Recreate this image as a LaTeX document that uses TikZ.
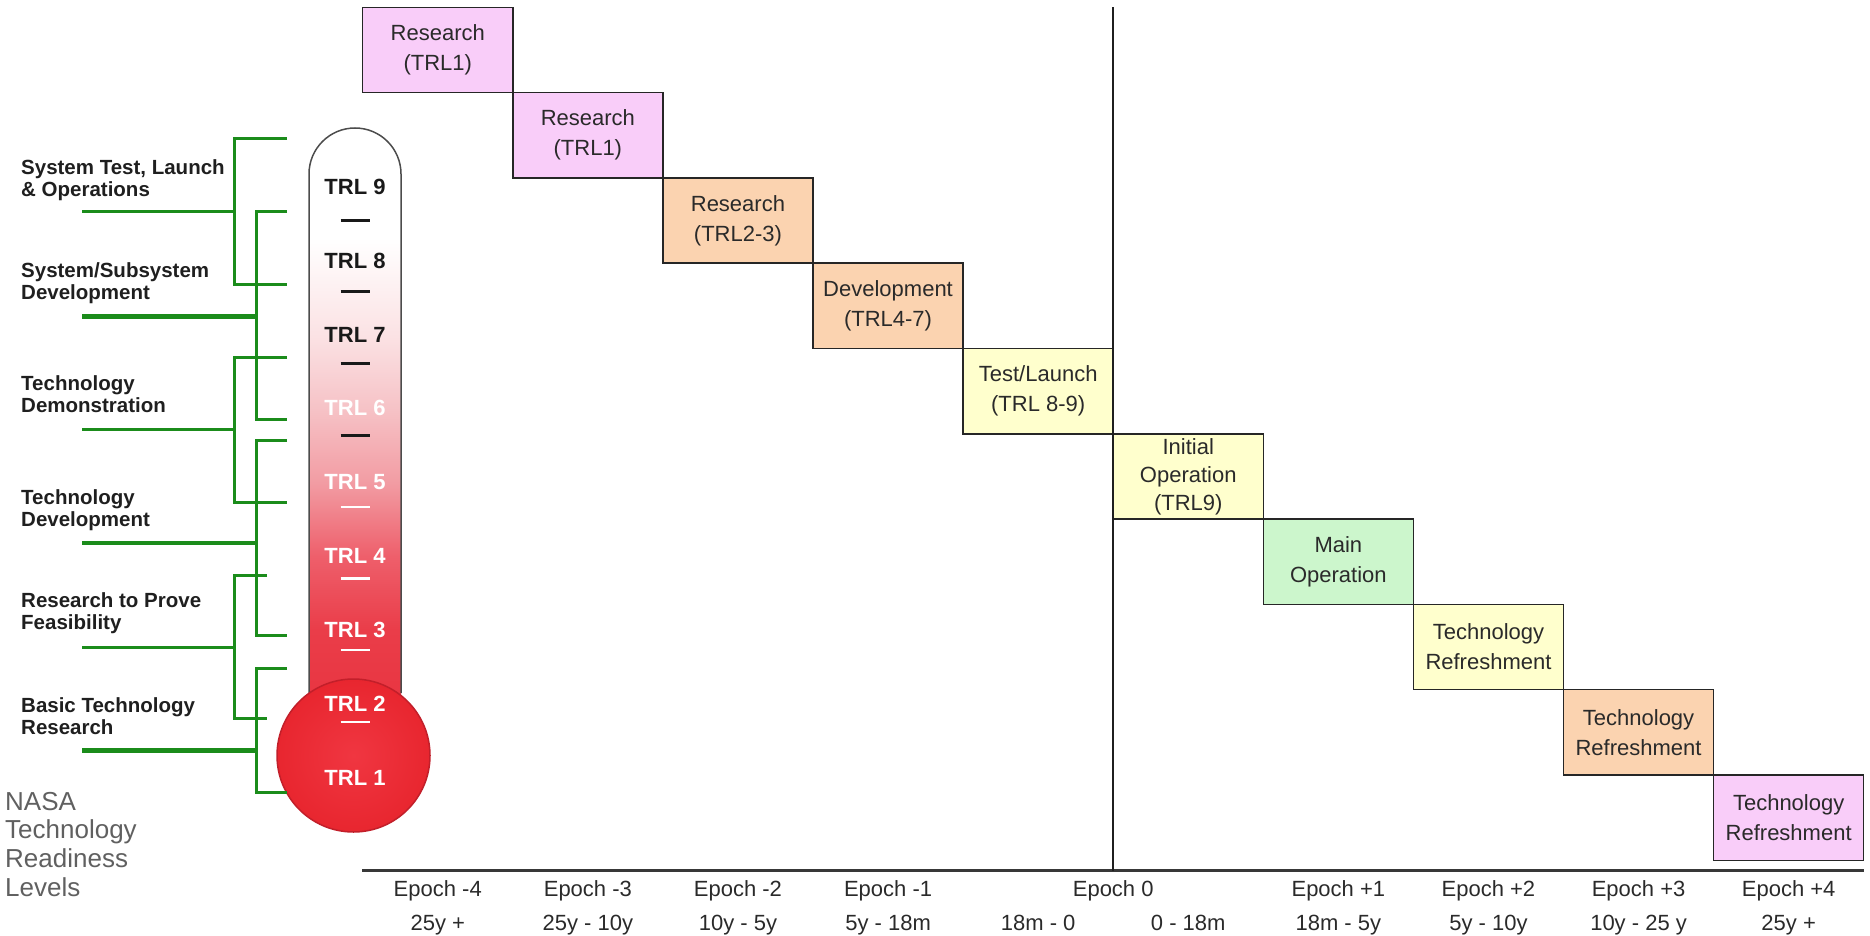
\documentclass[tikz,border=0pt]{standalone}
\usepackage{fontspec}
\setmainfont{Liberation Sans}
\usetikzlibrary{positioning}
\definecolor{pinkbox}{HTML}{F9CDF9}
\definecolor{tanbox}{HTML}{FBD3B0}
\definecolor{creambox}{HTML}{FFFFCD}
\definecolor{mintbox}{HTML}{CCF6CC}
\definecolor{boxtext}{HTML}{2A2A2A}
\definecolor{trlgreen}{HTML}{1B8C1B}
\definecolor{trlred}{HTML}{E8262F}
\definecolor{trlredin}{HTML}{F03641}
\definecolor{trlredrim}{HTML}{C21F2A}
\definecolor{trlseven}{HTML}{FBE2E4}
\definecolor{trlsix}{HTML}{F6C2C6}
\definecolor{trlfive}{HTML}{F29CA3}
\definecolor{trlfour}{HTML}{EE5F6B}
\definecolor{trlthree}{HTML}{EA3D49}
\definecolor{trltwo}{HTML}{E8313D}
\definecolor{nasagray}{HTML}{606060}
\pgfdeclareverticalshading{thermofill}{100bp}{color(0bp)=(trltwo); color(25bp)=(trltwo); color(34bp)=(trlthree); color(40bp)=(trlfour); color(46bp)=(trlfive); color(52bp)=(trlsix); color(58bp)=(trlseven); color(66bp)=(white); color(100bp)=(white)}

\begin{document}
\begin{tikzpicture}[x=1pt, y=1pt,
  box/.style={rectangle, draw=black!85, line width=1.5pt, fill=#1, minimum width=150.1pt, minimum height=85.3pt, inner sep=0pt, outer sep=0pt, anchor=north west, align=center, text=boxtext, font=\fontsize{22}{30}\selectfont},
  epoch/.style={anchor=base, inner sep=0pt, text=boxtext, font=\fontsize{22}{26}\selectfont},
  phase/.style={anchor=north west, align=left, inner sep=0pt, text=black!88, font=\bfseries\fontsize{20.5}{21.5}\selectfont},
  trl/.style={inner sep=0pt, text=#1, font=\bfseries\fontsize{22}{26}\selectfont},
  trldash/.style={#1, line width=3pt},
  bar/.style={trlgreen, line width=3pt, line join=miter},
  tube/.style={draw=black!70, line width=1.5pt}
]
  \useasboundingbox (0,0) rectangle (1870,-936);

  % thermometer
  \shade[shading=thermofill] (309,-740) -- (309,-174) arc[start angle=180, end angle=0, radius=46pt] -- (401,-740) -- cycle;
  \draw[tube] (309,-693) -- (309,-174) arc[start angle=180, end angle=0, radius=46pt] -- (401,-693);
  \shadedraw[draw=trlredrim, line width=1.5pt, inner color=trlredin, outer color=trlred] (353.5,-755.5) circle[radius=76.5pt];

  \node[trl=black!90] (trl9) at (355,-186.7) {TRL 9};
  \node[trl=black!90] (trl8) at (355,-260.6) {TRL 8};
  \node[trl=black!90] (trl7) at (355,-334.5) {TRL 7};
  \node[trl=white] (trl6) at (355,-408.4) {TRL 6};
  \node[trl=white] (trl5) at (355,-482.3) {TRL 5};
  \node[trl=white] (trl4) at (355,-556.2) {TRL 4};
  \node[trl=white] (trl3) at (355,-630.1) {TRL 3};
  \node[trl=white] (trl2) at (355,-704) {TRL 2};
  \node[trl=white] (trl1) at (355,-778) {TRL 1};
  \draw[trldash=black!90] (340.5,-220) -- (369.5,-220);
  \draw[trldash=black!90] (340.5,-291.7) -- (369.5,-291.7);
  \draw[trldash=black!90] (340.5,-363.4) -- (369.5,-363.4);
  \draw[trldash=black!90] (340.5,-435.1) -- (369.5,-435.1);
  \draw[trldash=white, line width=2.5pt] (340.5,-506.8) -- (369.5,-506.8);
  \draw[trldash=white, line width=2.5pt] (340.5,-578.5) -- (369.5,-578.5);
  \draw[trldash=white, line width=2.5pt] (340.5,-650.2) -- (369.5,-650.2);
  \draw[trldash=white, line width=2.5pt] (340.5,-722) -- (369.5,-722);

  % phases and brackets
  \node[phase] (ph1) at (21,-159.5) {System Test, Launch\\\& Operations};
  \node[phase] (ph2) at (21,-262.7) {System/Subsystem\\Development};
  \node[phase] (ph3) at (21,-375.7) {Technology\\Demonstration};
  \node[phase] (ph4) at (21,-489.5) {Technology\\Development};
  \node[phase] (ph5) at (21,-592.7) {Research to Prove\\Feasibility};
  \node[phase] (ph6) at (21,-697.7) {Basic Technology\\Research};

  \draw[bar] (82,-211) -- (234,-211);
  \draw[bar] (287,-139) -| (234,-284) -- (287,-284);
  \draw[bar, line width=5pt] (82,-316.7) -- (256,-316.7);
  \draw[bar] (287,-211) -| (256,-419) -- (287,-419);
  \draw[bar] (82,-429.3) -- (234,-429.3);
  \draw[bar] (287,-357) -| (234,-502.7) -- (287,-502.7);
  \draw[bar, line width=4pt] (82,-543) -- (256,-543);
  \draw[bar] (287,-440) -| (256,-635) -- (287,-635);
  \draw[bar] (82,-647) -- (234,-647);
  \draw[bar] (267,-575) -| (234,-718) -- (267,-718);
  \draw[bar, line width=5pt] (82,-750) -- (256,-750);
  \draw[bar] (287,-668) -| (256,-792) -- (287,-792);

  \node[anchor=north west, align=left, inner sep=0pt, text=nasagray, font=\fontsize{26}{28.7}\selectfont] (nasa) at (5,-791.7) {NASA\\Technology\\Readiness\\Levels};

  % epoch boxes
  \node[box=pinkbox] (r1) at (362.7,-7.3) {Research\\(TRL1)};
  \node[box=pinkbox] (r2) at (r1.south east) {Research\\(TRL1)};
  \node[box=tanbox] (r3) at (r2.south east) {Research\\(TRL2-3)};
  \node[box=tanbox] (dev) at (r3.south east) {Development\\(TRL4-7)};
  \node[box=creambox] (test) at (dev.south east) {Test/Launch\\(TRL 8-9)};
  \node[box=creambox, font=\fontsize{22}{28}\selectfont] (initop) at (test.south east) {Initial\\Operation\\(TRL9)};
  \node[box=mintbox] (mainop) at (initop.south east) {Main\\Operation};
  \node[box=creambox] (tr1) at (mainop.south east) {Technology\\Refreshment};
  \node[box=tanbox] (tr2) at (tr1.south east) {Technology\\Refreshment};
  \node[box=pinkbox] (tr3) at (tr2.south east) {Technology\\Refreshment};

  % axis
  \coordinate (axisL) at (362,-870.5);
  \coordinate (axisR) at (1863.5,-870.5);
  \draw[black!78, line width=3pt] (axisL) -- (axisR);
  \draw[black!88, line width=1.5pt] (test.east |- r1.north) -- (test.east |- axisL);

  \coordinate (eprow) at (0,-896.7);
  \coordinate (yrrow) at (0,-930);
  \node[epoch] (ep4m) at (r1 |- eprow) {Epoch -4};
  \node[epoch] (ep3m) at (r2 |- eprow) {Epoch -3};
  \node[epoch] (ep2m) at (r3 |- eprow) {Epoch -2};
  \node[epoch] (ep1m) at (dev |- eprow) {Epoch -1};
  \node[epoch] (ep0) at (test.east |- eprow) {Epoch 0};
  \node[epoch] (ep1p) at (mainop |- eprow) {Epoch +1};
  \node[epoch] (ep2p) at (tr1 |- eprow) {Epoch +2};
  \node[epoch] (ep3p) at (tr2 |- eprow) {Epoch +3};
  \node[epoch] (ep4p) at (tr3 |- eprow) {Epoch +4};

  \node[epoch] (yr1) at (r1 |- yrrow) {25y +};
  \node[epoch] (yr2) at (r2 |- yrrow) {25y - 10y};
  \node[epoch] (yr3) at (r3 |- yrrow) {10y - 5y};
  \node[epoch] (yr4) at (dev |- yrrow) {5y - 18m};
  \node[epoch] (yr5) at (test |- yrrow) {18m - 0};
  \node[epoch] (yr6) at (initop |- yrrow) {0 - 18m};
  \node[epoch] (yr7) at (mainop |- yrrow) {18m - 5y};
  \node[epoch] (yr8) at (tr1 |- yrrow) {5y - 10y};
  \node[epoch] (yr9) at (tr2 |- yrrow) {10y - 25 y};
  \node[epoch] (yr10) at (tr3 |- yrrow) {25y +};
\end{tikzpicture}
\end{document}
